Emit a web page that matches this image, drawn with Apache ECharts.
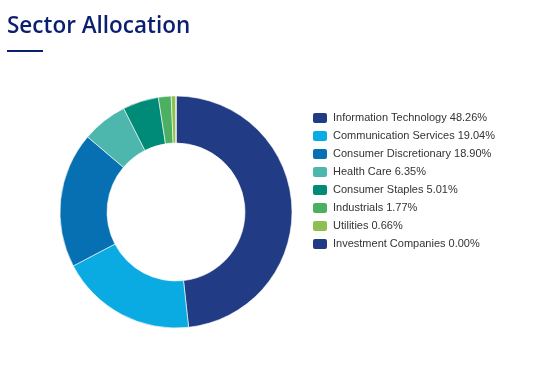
<!DOCTYPE html>
<html>
<head>
<meta charset="utf-8">
<script src="https://cdn.jsdelivr.net/npm/echarts@6/dist/echarts.min.js"></script>
<style>
html,body{margin:0;padding:0;background:#fff;}
#chart{width:553px;height:368px;}
</style>
</head>
<body>
<div id="chart"></div>
<script>
var sectors = ["Information Technology","Communication Services","Consumer Discretionary","Health Care","Consumer Staples","Industrials","Utilities","Investment Companies"];
var weights = [48.26, 19.04, 18.90, 6.35, 5.01, 1.77, 0.66, 0.00];
var colors = ["#213c85","#0aaae2","#0670b3","#4db6ad","#008b78","#4caf62","#8dc050","#213c85"];

var chart = echarts.init(document.getElementById('chart'), null, {renderer:'canvas'});
var data = sectors.map(function(s,i){ return {name:s, value:weights[i], itemStyle:{color:colors[i]}}; });
chart.setOption({
  animation:false,
  title:{
    text:'Sector Allocation', left:2, top:10,
    textStyle:{fontFamily:'Open Sans', fontSize:22.5, fontWeight:600, color:'#0a1f70'}
  },
  graphic:[{type:'rect', shape:{x:7,y:50,width:36,height:2}, style:{fill:'#0a1f70'}}],
  legend:{
    orient:'vertical', left:306, top:106,
    itemWidth:16, itemHeight:12, itemGap:4, icon:'roundRect',
    textStyle:{fontFamily:'Liberation Sans', fontSize:11, lineHeight:12, color:'#333'},
    formatter:function(n){ var i=sectors.indexOf(n); return n+' '+weights[i].toFixed(2)+'%'; },
    data:sectors
  },
  series:[{
    type:'pie', center:[176,212], radius:[69,116], startAngle:90, clockwise:true,
    label:{show:false}, labelLine:{show:false}, silent:true,
    itemStyle:{borderColor:'#fff', borderWidth:0.6},
    data:data
  }]
});
</script>
</body>
</html>
